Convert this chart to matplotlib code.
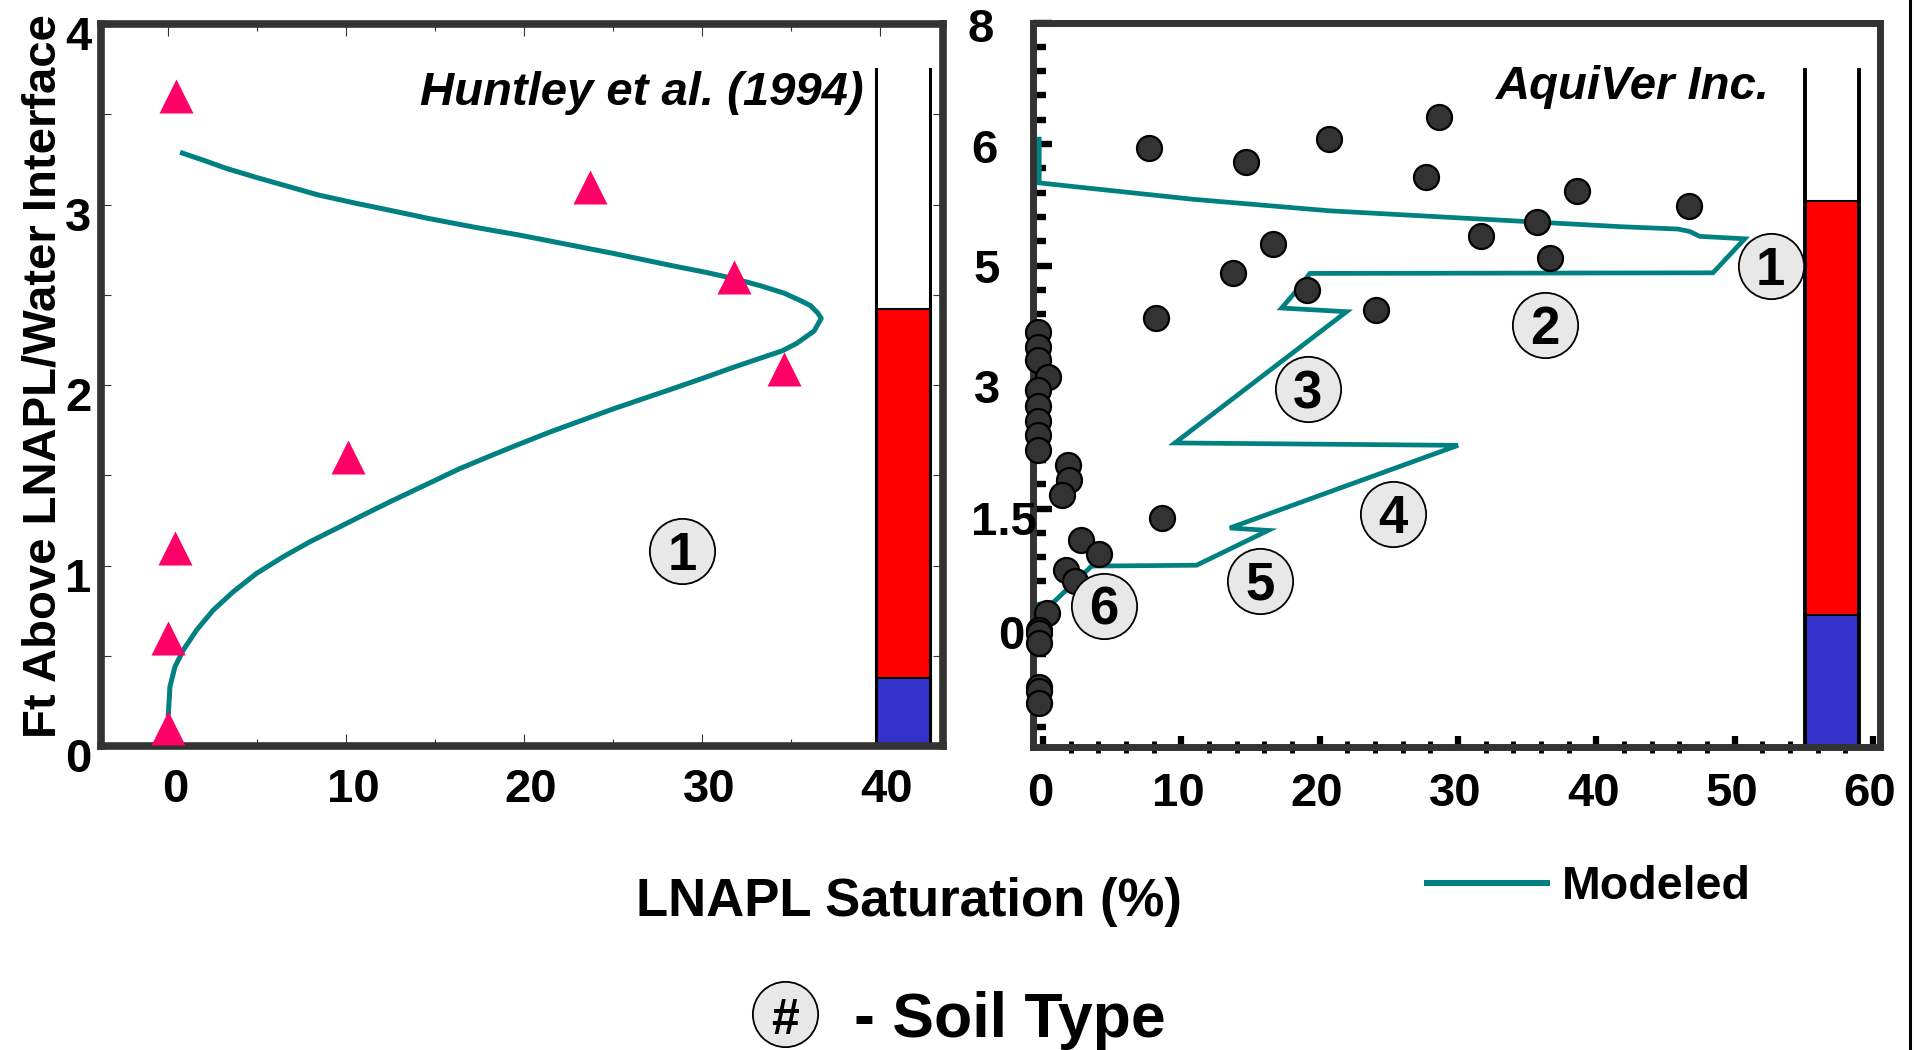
import numpy as np
import matplotlib.pyplot as plt
from matplotlib.lines import Line2D
from matplotlib.ticker import FixedLocator, MultipleLocator
from matplotlib.transforms import ScaledTranslation

plt.rcParams['font.family'] = ['Liberation Sans', 'DejaVu Sans']
plt.rcParams['font.weight'] = 'bold'

TEAL = '#008080'
PINK = '#ff0066'
DOT = '#333333'
FRAME = '#333333'

# ---- left panel: Huntley et al. (1994) ----
huntley_sat = [0.47, 23.7, 31.8, 34.6, 10.1, 0.4, 0.0, 0.0]
huntley_ft = [3.60, 3.10, 2.60, 2.09, 1.60, 1.10, 0.60, 0.10]

huntley_model_sat = [0.81, 1.92, 3.29, 5.01, 6.73, 8.45, 10.52, 12.58, 14.64, 17.2,
                     19.8, 22.4, 25.0, 28.4, 30.2, 31.8, 33.3, 34.6, 35.5, 36.1,
                     36.5, 36.7, 36.5, 36.3, 35.8, 35.3, 34.5, 33.6, 31.8, 30.1,
                     28.4, 25.0, 21.5, 19.8, 18.1, 16.4, 14.65, 12.47, 10.97, 9.48,
                     7.98, 6.48, 4.98, 3.67, 2.55, 1.61, 0.86, 0.39, 0.11, 0.02]
huntley_model_ft = [3.285, 3.248, 3.20, 3.149, 3.101, 3.053, 3.008, 2.966, 2.923, 2.875,
                    2.83, 2.78, 2.73, 2.66, 2.625, 2.59, 2.55, 2.51, 2.47, 2.44,
                    2.40, 2.37, 2.335, 2.30, 2.265, 2.23, 2.19, 2.16, 2.10, 2.04,
                    1.982, 1.868, 1.742, 1.676, 1.608, 1.538, 1.456, 1.354, 1.281, 1.207,
                    1.133, 1.05, 0.958, 0.856, 0.755, 0.644, 0.533, 0.44, 0.33, 0.18]

huntley_col_x = (39.8, 42.8)
huntley_col_top = 3.75
huntley_red = (0.38, 2.42)
huntley_blue = (0.0, 0.38)
huntley_soil = [(28.9, 1.08, '1')]

# ---- right panel: AquiVer Inc. ----
aquiver_sat = [7.7, 14.65, 20.7, 28.65, 27.67, 38.63, 35.7, 31.67, 36.66, 46.66,
               16.65, 13.7, 19.1, 24.1, 8.15,
               -0.34, -0.34, -0.34, 0.4, -0.34, -0.34, -0.34, -0.34, -0.34,
               1.83, 1.9, 1.35, 8.63, 2.75, 4.07, 1.64, 2.31, 0.26,
               -0.3, -0.3, -0.3, -0.3, -0.3, -0.3]
aquiver_ft = [5.97, 5.85, 6.08, 6.44, 5.73, 5.61, 5.36, 5.24, 5.06, 5.49,
              5.18, 4.88, 4.60, 4.27, 4.14,
              3.91, 3.66, 3.44, 3.17, 2.96, 2.76, 2.58, 2.41, 2.22,
              2.04, 1.85, 1.67, 1.38, 1.11, 0.94, 0.74, 0.60, 0.21,
              0.0, -0.04, -0.16, -0.70, -0.75, -0.90]

aquiver_model_sat = [-0.27, -0.27, 10.86, 20.74, 41.7, 45.9, 46.75, 47.47, 50.72,
                     48.43, 19.29, 18.57, 17.25, 21.94, 9.54, 30.0, 13.51, 16.28,
                     11.1, 3.52, 0.74, -0.27, -0.27]
aquiver_model_ft = [6.08, 5.68, 5.545, 5.45, 5.32, 5.30, 5.28, 5.24, 5.22,
                    4.88, 4.87, 4.65, 4.30, 4.24, 2.31, 2.28, 1.26, 1.23,
                    0.80, 0.79, 0.34, 0.32, 0.0]

aquiver_col_x = (55.1, 58.95)
aquiver_col_top = 7.22
aquiver_red = (0.19, 5.53)
aquiver_blue = (-1.44, 0.19)
aquiver_soil = [(52.6, 4.99, '1'), (36.27, 4.02, '2'), (19.13, 2.97, '3'),
                (25.27, 1.43, '4'), (15.68, 0.61, '5'), (4.41, 0.30, '6')]

aquiver_tick_ft = [0, 1.5, 3, 5, 6, 8]
aquiver_tick_labels = ['0', '1.5', '3', '5', '6', '8']

# the right axis is evenly spaced between uneven labels -> piecewise scale
_anchor_ft = np.array([-15.0, 0.0, 1.5, 3.0, 5.0, 6.0, 8.0, 28.0])
_anchor_pos = np.array([-10.0, 0.0, 1.0, 2.0, 3.0, 4.0, 5.0, 15.0])


def ft_to_pos(v):
    return np.interp(v, _anchor_ft, _anchor_pos)


def pos_to_ft(p):
    return np.interp(p, _anchor_pos, _anchor_ft)


fig = plt.figure(figsize=(19.14, 10.5), dpi=100)
W, H = 1914.0, 1050.0


def px_axes(x0, x1, ytop, ybot):
    return fig.add_axes([x0 / W, 1 - ybot / H, (x1 - x0) / W, (ybot - ytop) / H])


def shift(artist, dx, dy):
    # dx, dy in pixels (dpi 100)
    artist.set_transform(artist.get_transform() +
                         ScaledTranslation(dx / 100.0, dy / 100.0, fig.dpi_scale_trans))


def soil_marker(ax, x, y, label, trans=None, fs=38):
    trans = ax.transData if trans is None else trans
    ax.plot([x], [y], marker='o', ms=47, mfc='#e8e8e8', mec='black', mew=1.3,
            ls='none', zorder=6, clip_on=False, transform=trans)
    ax.annotate(label, (x, y), xycoords=trans, xytext=(0, -0.358 * fs),
                textcoords='offset points', ha='center', va='baseline',
                fontsize=fs, fontweight='bold', zorder=7)


# ---------------- left panel ----------------
ax1 = px_axes(100.7, 943.0, 24.0, 746.3)
ax1.set_xlim(-3.78, 43.54)
ax1.set_ylim(0, 4)

ax1.plot(huntley_model_sat, huntley_model_ft, color=TEAL, lw=3.6, zorder=3)
ax1.plot(huntley_sat, huntley_ft, ls='none', marker='^', ms=24, color=PINK,
         mec='none', zorder=4, clip_on=False)

c0, c1 = huntley_col_x
ax1.bar(c0, huntley_blue[1] - huntley_blue[0], width=c1 - c0, bottom=huntley_blue[0],
        align='edge', color='#3333cc', edgecolor='none', zorder=2)
ax1.bar(c0, huntley_red[1] - huntley_red[0], width=c1 - c0, bottom=huntley_red[0],
        align='edge', color='#ff0000', edgecolor='black', lw=1.5, zorder=2)
for cx in huntley_col_x:
    ax1.plot([cx, cx], [0, huntley_col_top], color='black', lw=2.2, zorder=2.2)

for x, y, lab in huntley_soil:
    soil_marker(ax1, x, y, lab)

ax1.text(0.9055, 0.888, 'Huntley et al. (1994)', transform=ax1.transAxes,
         ha='right', va='baseline', fontsize=34, fontweight='bold', style='italic')

ax1.xaxis.set_major_locator(MultipleLocator(10))
ax1.xaxis.set_minor_locator(MultipleLocator(5))
ax1.yaxis.set_major_locator(MultipleLocator(1))
ax1.yaxis.set_minor_locator(MultipleLocator(0.5))
ax1.tick_params(which='both', direction='in', top=True, right=True, color=FRAME,
                width=0.8, labelsize=34)
ax1.tick_params(which='major', length=8.5)
ax1.tick_params(which='minor', length=5)
ax1.tick_params(axis='y', which='both', length=7)
ax1.tick_params(axis='x', pad=15.5)
ax1.tick_params(axis='y', pad=6.5)
for sp in ax1.spines.values():
    sp.set_linewidth(5.5)
    sp.set_color(FRAME)
for lab in ax1.get_xticklabels():
    shift(lab, 7, 0)
for lab in ax1.get_yticklabels():
    shift(lab, 0, -9)

# ---------------- right panel ----------------
ax2 = px_axes(1033.0, 1880.0, 22.5, 746.7)
ax2.set_yscale('function', functions=(ft_to_pos, pos_to_ft))
ax2.set_xlim(-0.72, 60.5)
ax2.set_ylim(pos_to_ft(-0.96), 8)

ax2.plot(aquiver_model_sat, aquiver_model_ft, color=TEAL, lw=3.4, zorder=3,
         solid_joinstyle='miter')
ax2.plot(aquiver_sat, aquiver_ft, ls='none', marker='o', ms=18, mfc=DOT, mec='black',
         mew=1.6, zorder=4, clip_on=False)

c0, c1 = aquiver_col_x
ax2.bar(c0, aquiver_blue[1] - aquiver_blue[0], width=c1 - c0, bottom=aquiver_blue[0],
        align='edge', color='#3333cc', edgecolor='none', zorder=2)
ax2.bar(c0, aquiver_red[1] - aquiver_red[0], width=c1 - c0, bottom=aquiver_red[0],
        align='edge', color='#ff0000', edgecolor='black', lw=1.5, zorder=2)
for cx in aquiver_col_x:
    ax2.plot([cx, cx], [aquiver_blue[0], aquiver_col_top], color='black', lw=2.8,
             zorder=2.2)

for x, y, lab in aquiver_soil:
    soil_marker(ax2, x, y, lab)

ax2.text(0.870, 0.894, 'AquiVer Inc.', transform=ax2.transAxes,
         ha='right', va='baseline', fontsize=34, fontweight='bold', style='italic')

ax2.xaxis.set_major_locator(MultipleLocator(10))
ax2.xaxis.set_minor_locator(MultipleLocator(2))
ax2.yaxis.set_major_locator(FixedLocator(aquiver_tick_ft))
ax2.yaxis.set_minor_locator(FixedLocator(pos_to_ft(np.arange(-0.8, 5.0, 0.2))))
ax2.tick_params(which='both', color='black', labelsize=34)
ax2.tick_params(axis='y', which='major', direction='in', length=14, width=4.6,
                labelleft=False)
ax2.tick_params(axis='y', which='minor', direction='in', length=9, width=4.6)
ax2.tick_params(axis='x', which='major', direction='in', length=8, width=4.5, pad=18.5)
ax2.tick_params(axis='x', which='minor', direction='inout', length=8, width=3.5)
for sp in ax2.spines.values():
    sp.set_linewidth(5.0)
    sp.set_color(FRAME)
for lab in ax2.get_xticklabels():
    shift(lab, -3, 0)

# uneven hand-placed labels of the right axis
ytrans = ax2.get_yaxis_transform()
label_right_px = [1025, 1037, 1000, 1000, 998, 994]
label_dy_px = [-7, -14, -4, -5, -7, -8]
for val, txt, rx, dy in zip(aquiver_tick_ft, aquiver_tick_labels, label_right_px, label_dy_px):
    t = ax2.text((rx - 1033.0) / 847.0, val, txt, transform=ytrans, ha='right',
                 va='center', fontsize=34, fontweight='bold', clip_on=False, zorder=5)
    shift(t, 0, dy)

# ---------------- shared labels ----------------
fig.text(34 / W + 0.0113, 1 - 376 / H, 'Ft Above LNAPL/Water Interface', rotation=90,
         rotation_mode='anchor', ha='center', va='baseline', fontsize=34,
         fontweight='bold')
fig.text(909 / W, 1 - 915.7 / H, 'LNAPL Saturation (%)', ha='center', va='baseline',
         fontsize=38, fontweight='bold')

# legend for modeled curve
fig.add_artist(Line2D([1426.7 / W, 1546.7 / W], [1 - 882.7 / H] * 2, color=TEAL, lw=4.3))
fig.text(1561.7 / W, 1 - 899.3 / H, 'Modeled', ha='left', va='baseline', fontsize=33.5,
         fontweight='bold')

# soil type key
fig.add_artist(Line2D([785 / W], [1 - 1014 / H], marker='o', ms=47, mfc='#e8e8e8',
                      mec='black', mew=1.3, ls='none'))
fig.text(785 / W, 1 - 1034 / H, '#', ha='center', va='baseline', fontsize=36,
         fontweight='bold')
fig.text(854 / W, 1 - 1036.7 / H, '- Soil Type', ha='left', va='baseline', fontsize=45,
         fontweight='bold')

# border line at the right edge of the original slide
fig.add_artist(Line2D([1909.5 / W] * 2, [0, 1], color='black', lw=2.2))

fig.savefig('out.png', dpi=100)
